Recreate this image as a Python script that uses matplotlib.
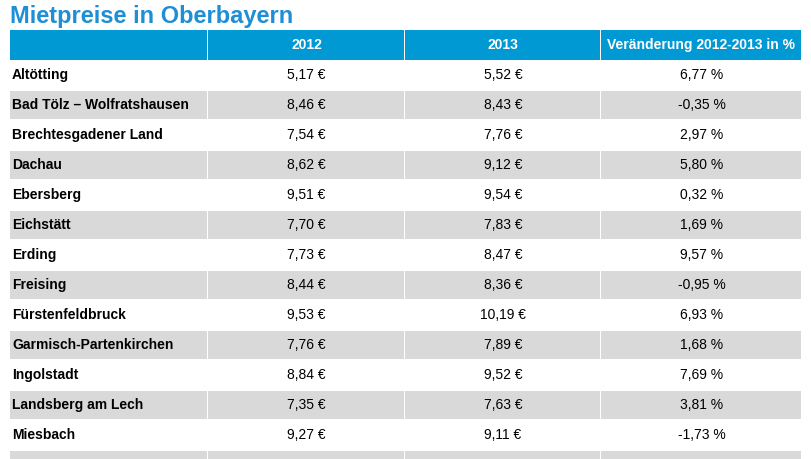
import matplotlib.pyplot as plt
from matplotlib.patches import Rectangle

districts = ['Altötting', 'Bad Tölz – Wolfratshausen', 'Brechtesgadener Land', 'Dachau',
             'Ebersberg', 'Eichstätt', 'Erding', 'Freising', 'Fürstenfeldbruck',
             'Garmisch-Partenkirchen', 'Ingolstadt', 'Landsberg am Lech', 'Miesbach', '']
price_2012 = ['5,17 €', '8,46 €', '7,54 €', '8,62 €', '9,51 €', '7,70 €', '7,73 €',
              '8,44 €', '9,53 €', '7,76 €', '8,84 €', '7,35 €', '9,27 €', '']
price_2013 = ['5,52 €', '8,43 €', '7,76 €', '9,12 €', '9,54 €', '7,83 €', '8,47 €',
              '8,36 €', '10,19 €', '7,89 €', '9,52 €', '7,63 €', '9,11 €', '']
change = ['6,77 %', '-0,35 %', '2,97 %', '5,80 %', '0,32 %', '1,69 %', '9,57 %',
          '-0,95 %', '6,93 %', '1,68 %', '7,69 %', '3,81 %', '-1,73 %', '']
headers = ['', '2012', '2013', 'Veränderung 2012-2013 in %']

plt.rcParams['font.family'] = ['Liberation Sans Narrow', 'Liberation Sans', 'DejaVu Sans']

W, H = 812, 459
fig = plt.figure(figsize=(W / 100, H / 100), dpi=100)
ax = fig.add_axes([0, 0, 1, 1])
ax.set_xlim(0, W)
ax.set_ylim(H, 0)
ax.axis('off')

col_edges = [10, 208, 405, 601, 802]
top, header_h, row_h = 30, 30, 30
blue = '#0099D3'
gray = '#D9D9D9'

ax.text(10, 17, 'Mietpreise in Oberbayern', fontsize=17, fontweight='bold',
        color='#1E8FD5', ha='left', va='center', family='Liberation Sans')

# header
for j in range(4):
    x0, x1 = col_edges[j], col_edges[j + 1]
    ax.add_patch(Rectangle((x0, top), x1 - x0 - 1, header_h, facecolor=blue, edgecolor='none'))
    ax.text((x0 + x1) / 2, top + header_h / 2, headers[j], color='white', fontsize=10,
            fontweight='bold', ha='center', va='center')

# body rows
for i, name in enumerate(districts):
    y0 = top + header_h + i * row_h
    if i % 2 == 1:
        for j in range(4):
            x0, x1 = col_edges[j], col_edges[j + 1]
            ax.add_patch(Rectangle((x0, y0 + 1), x1 - x0 - 1, row_h - 2,
                                   facecolor=gray, edgecolor='none'))
    yc = y0 + row_h / 2
    ax.text(col_edges[0] + 2, yc, name, fontsize=10, fontweight='bold', ha='left', va='center')
    for j, vals in enumerate([price_2012, price_2013, change], start=1):
        ax.text((col_edges[j] + col_edges[j + 1]) / 2, yc, vals[i], fontsize=10,
                ha='center', va='center')

fig.savefig('out.png', dpi=100)
